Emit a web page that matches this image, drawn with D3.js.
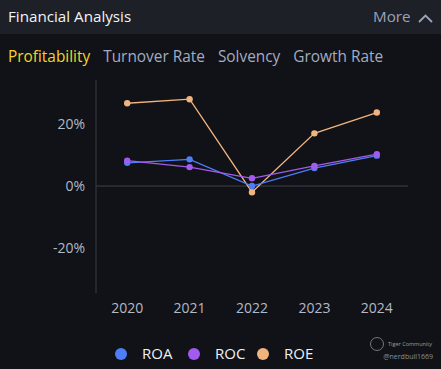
<!DOCTYPE html>
<html><head><meta charset="utf-8">
<script src="https://cdn.jsdelivr.net/npm/d3@7"></script>
<style>
html,body{margin:0;padding:0;background:#101217;}
svg{display:block;font-family:"Open Sans","Noto Sans",sans-serif;}
</style></head>
<body>
<svg id="c" width="441" height="369"></svg>
<script>
const years = ["2020","2021","2022","2023","2024"];
const roa = [7.5, 8.6, 0.0, 5.8, 9.8];
const roc = [8.2, 6.1, 2.5, 6.5, 10.3];
const roe = [26.7, 28.0, -2.0, 17.0, 23.7];
const yTicks = [-20, 0, 20];
const tabs = ["Profitability","Turnover Rate","Solvency","Growth Rate"];
const seriesNames = ["ROA","ROC","ROE"];
const colors = ["#4d7ef7","#a35bef","#f2b47e"];
const seriesData = [roa, roc, roe];

const svg = d3.select("#c");
svg.append("rect").attr("width",441).attr("height",369).attr("fill","#101217");
svg.append("rect").attr("width",441).attr("height",34).attr("fill","#1d2027");
svg.append("text").attr("x",8).attr("y",22).attr("fill","#f2f3f5").attr("font-size",15.2).text("Financial Analysis");
svg.append("text").attr("x",373).attr("y",22).attr("fill","#9aa3b9").attr("font-size",15.2).text("More");
svg.append("path").attr("d","M419,22 L425.5,15.5 L432,22").attr("fill","none").attr("stroke","#9aa3b9").attr("stroke-width",1.8);

let tx = 8;
const tabGap = 13;
tabs.forEach((t,i)=>{
  const el = svg.append("text").attr("x",tx).attr("y",62).attr("font-size",15.4)
    .attr("fill", i===0 ? "#f3d32a" : "#a3abc2").text(t);
  tx += el.node().getComputedTextLength() + tabGap;
});

const x = d3.scaleBand().domain(years).range([96,408]);
const y = d3.scaleLinear().domain([-34.5,34.2]).range([293,80]);

// axes
svg.append("line").attr("x1",96).attr("x2",96).attr("y1",80).attr("y2",293).attr("stroke","#3a3d44").attr("stroke-width",1);
svg.append("line").attr("x1",96).attr("x2",408).attr("y1",y(0)).attr("y2",y(0)).attr("stroke","#3f424a").attr("stroke-width",1);

svg.selectAll(".yt").data(yTicks).enter().append("text")
  .attr("x",85).attr("y",d=>y(d)).attr("dy","0.35em").attr("text-anchor","end")
  .attr("fill","#b4b9c7").attr("font-size",14).text(d=>d+"%");
svg.selectAll(".xt").data(years).enter().append("text")
  .attr("x",d=>x(d)+x.bandwidth()/2).attr("y",308).attr("dy","0.35em").attr("text-anchor","middle")
  .attr("fill","#b4b9c7").attr("font-size",14).text(d=>d);

const line = d3.line().x((d,i)=>x(years[i])+x.bandwidth()/2).y(d=>y(d));
[2,0,1].forEach(s=>{
  svg.append("path").datum(seriesData[s]).attr("d",line).attr("fill","none")
    .attr("stroke",colors[s]).attr("stroke-width",1.3);
});
[2,0,1].forEach(s=>{
  svg.selectAll(".p"+s).data(seriesData[s]).enter().append("circle")
    .attr("cx",(d,i)=>x(years[i])+x.bandwidth()/2).attr("cy",d=>y(d)).attr("r",3.2)
    .attr("fill",colors[s]);
});

// legend
const legX = [121,194,263];
seriesNames.forEach((n,i)=>{
  svg.append("circle").attr("cx",legX[i]).attr("cy",354).attr("r",6).attr("fill",colors[i]);
  svg.append("text").attr("x",legX[i]+21).attr("y",354).attr("dy","0.35em").attr("fill","#eef0f4").attr("font-size",15).text(n);
});

// watermark
svg.append("circle").attr("cx",377).attr("cy",344).attr("r",6.5).attr("fill","none").attr("stroke","#8a8e96").attr("stroke-width",0.8);
svg.append("text").attr("x",388).attr("y",346).attr("fill","#9a9ea6").attr("font-size",5.5).text("Tiger Community");
svg.append("text").attr("x",433).attr("y",359).attr("text-anchor","end").attr("fill","#8a8e96").attr("font-size",7).text("@nerdbull1669");
</script>
</body></html>
